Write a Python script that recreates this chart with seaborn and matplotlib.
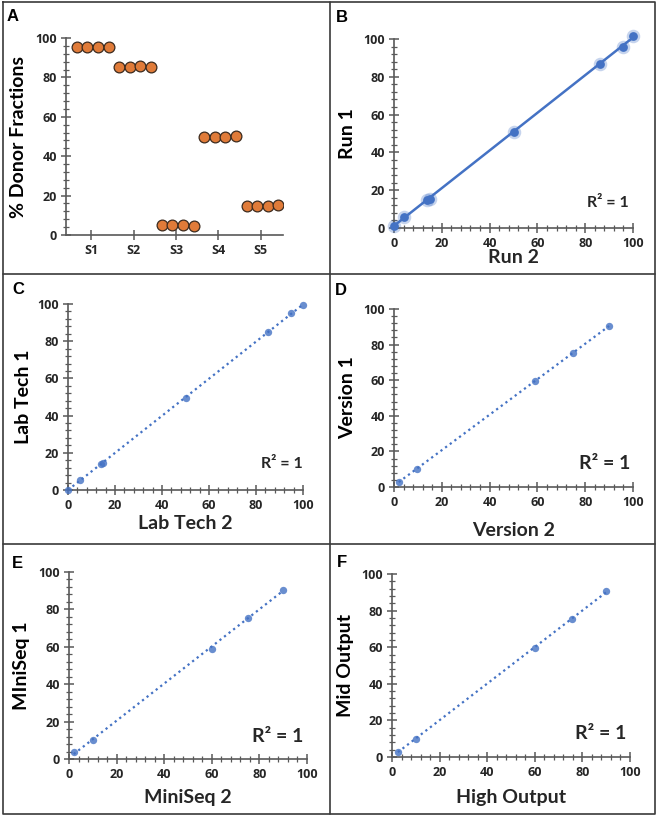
import numpy as np
import pandas as pd
import matplotlib
matplotlib.use("Agg")
import matplotlib.pyplot as plt
from matplotlib.lines import Line2D
from matplotlib.ticker import AutoMinorLocator, MultipleLocator
import seaborn as sns

# Panel A : % de fractions donneur, 4 réplicats par échantillon
samples = ["S1", "S2", "S3", "S4", "S5"]
rep_1 = [95.3, 85.5, 5.2, 49.5, 14.7]
rep_2 = [95.3, 85.5, 5.2, 49.5, 14.7]
rep_3 = [95.3, 85.8, 5.2, 50.0, 14.7]
rep_4 = [95.3, 85.5, 4.8, 50.5, 15.2]

# Panel B : Run 2 (x) vs Run 1 (y)
run2 = [0, 4, 14, 15, 50, 86, 96, 100]
run1 = [1, 6, 15, 15.5, 51, 87, 96, 101.5]

# Panel C : Lab Tech 2 (x) vs Lab Tech 1 (y)
tech2 = [0, 5, 14, 15, 50, 85, 95, 100]
tech1 = [0, 5.5, 14, 14.5, 49.5, 85, 95, 99.5]

# Panel D : Version 2 (x) vs Version 1 (y)
version2 = [2, 9.5, 59, 75, 90]
version1 = [3, 10, 59.5, 75.5, 90.5]

# Panel E : MiniSeq 2 (x) vs MiniSeq 1 (y)
miniseq2 = [2, 10, 60, 75, 90]
miniseq1 = [3.5, 10, 59, 75.5, 90.5]

# Panel F : High Output (x) vs Mid Output (y)
high_out = [2.5, 10, 60, 75.5, 90]
mid_out = [3, 10, 59.5, 75.5, 90.5]

W, H = 659, 818
BLUE = "#4472C4"
ORANGE = "#E07B39"
AXCOL = "#595959"
TXT = "#262626"

sns.set_style("ticks")
plt.rcParams["font.family"] = ["Lato", "DejaVu Sans"]
plt.rcParams["font.weight"] = "bold"

fig = plt.figure(figsize=(W / 100, H / 100), dpi=100)


def add_ax(x0, x1, ytop, ybot):
    """Créer des axes à partir de coordonnées en pixels."""
    return fig.add_axes([x0 / W, 1 - ybot / H, (x1 - x0) / W, (ybot - ytop) / H])


def style_ax(ax, minor_x=True):
    sns.despine(ax=ax)
    for s in ["left", "bottom"]:
        ax.spines[s].set_color(AXCOL)
        ax.spines[s].set_linewidth(1.2)
    ax.set_ylim(0, 100)
    ax.yaxis.set_major_locator(MultipleLocator(20))
    ax.yaxis.set_minor_locator(AutoMinorLocator(5))
    if minor_x:
        ax.set_xlim(0, 100)
        ax.xaxis.set_major_locator(MultipleLocator(20))
        ax.xaxis.set_minor_locator(AutoMinorLocator(5))
    ax.tick_params(which="major", direction="inout", length=7, width=1.1,
                   color=AXCOL, labelsize=9, labelcolor=TXT, pad=3,
                   labelfontfamily="Open Sans")
    ax.tick_params(which="minor", direction="inout", length=4, width=0.9, color=AXCOL)


def scatter_panel(ax, x, y, xlabel, ylabel, solid=False, xpad=4, ypad=5):
    if solid:
        sns.regplot(x=x, y=y, ax=ax, ci=None, color=BLUE,
                    scatter_kws=dict(s=95, alpha=0.3, linewidths=0, clip_on=False),
                    line_kws=dict(lw=1.8))
        ax.scatter(x, y, s=40, color=BLUE, zorder=3, linewidths=0, clip_on=False)
    else:
        sns.regplot(x=x, y=y, ax=ax, ci=None, color=BLUE,
                    scatter_kws=dict(s=28, linewidths=0, zorder=3, clip_on=False),
                    line_kws=dict(lw=1.6, linestyle=(0, (1, 1.6))))
    style_ax(ax)
    ax.set_xlabel(xlabel, fontsize=14, fontweight="bold", color=TXT, labelpad=xpad)
    ax.set_ylabel(ylabel, fontsize=14, fontweight="bold", color="black", labelpad=ypad)


# Panel A
axA = add_ax(66, 283, 38, 235)
dfA = pd.DataFrame({"sample": samples, "r1": rep_1, "r2": rep_2, "r3": rep_3, "r4": rep_4})
dfA = dfA.melt(id_vars="sample", var_name="rep", value_name="value")
codes = dfA["sample"].map({s: i for i, s in enumerate(samples)})
rep_num = dfA["rep"].str[1].astype(int)
dfA["pos"] = codes + (rep_num - 2.35) * 0.25
sns.scatterplot(data=dfA, x="pos", y="value", ax=axA, s=60, color=ORANGE,
                edgecolor="#3b2a1e", linewidth=0.9, zorder=3, legend=False)
axA.set_xticks(range(len(samples)))
axA.set_xticklabels(samples)
style_ax(axA, minor_x=False)
axA.set_xlim(-0.59, 4.52)
axA.set_xlabel("")
axA.set_ylabel("% Donor Fractions", fontsize=14, fontweight="bold", color="black", labelpad=6)

# Panel B
axB = add_ax(394, 633, 39, 228)
scatter_panel(axB, run2, run1, "Run 2", "Run 1", solid=True, xpad=-1)
axB.text(0.895, 0.13, "R² = 1", transform=axB.transAxes, ha="center", va="center",
         fontsize=11.5, fontweight="bold", color="#262626")

# Panel C
axC = add_ax(68, 303, 304, 490)
scatter_panel(axC, tech2, tech1, "Lab Tech 2", "Lab Tech 1", xpad=2, ypad=4)
axC.text(0.91, 0.14, "R² = 1", transform=axC.transAxes, ha="center", va="center",
         fontsize=11.5, fontweight="bold", color="#262626")

# Panel D
axD = add_ax(394, 633, 309, 487)
scatter_panel(axD, version2, version1, "Version 2", "Version 1", xpad=9)
axD.text(0.88, 0.13, "R² = 1", transform=axD.transAxes, ha="center", va="center",
         fontsize=14, fontweight="bold", color="#262626")

# Panel E
axE = add_ax(69, 307, 572, 759)
scatter_panel(axE, miniseq2, miniseq1, "MiniSeq 2", "MIniSeq 1", xpad=6, ypad=6)
axE.text(0.875, 0.12, "R² = 1", transform=axE.transAxes, ha="center", va="center",
         fontsize=14, fontweight="bold", color="#262626")

# Panel F
axF = add_ax(392, 630, 574, 757)
scatter_panel(axF, high_out, mid_out, "High Output", "Mid Output", xpad=7)
axF.text(0.875, 0.13, "R² = 1", transform=axF.transAxes, ha="center", va="center",
         fontsize=14, fontweight="bold", color="#262626")

# Lettres des panneaux
letters = [("A", 7, 9), ("B", 336, 10), ("C", 12, 282), ("D", 335, 283), ("E", 12, 556), ("F", 337, 555)]
for letter, px, py in letters:
    fig.text(px / W, 1 - py / H, letter, ha="left", va="top", fontsize=12,
             fontweight="bold", family=["Liberation Sans", "DejaVu Sans"], color="black")

# Cadres des panneaux
def fig_line(xs, ys):
    fig.add_artist(Line2D([x / W for x in xs], [1 - y / H for y in ys],
                          color="#3a3a3a", lw=1.2, transform=fig.transFigure))

fig_line([3, 655, 655, 3, 3], [2, 2, 814, 814, 2])
fig_line([330, 330], [2, 814])
fig_line([3, 655], [274, 274])
fig_line([3, 655], [544, 544])

fig.savefig("out.png", dpi=100)
